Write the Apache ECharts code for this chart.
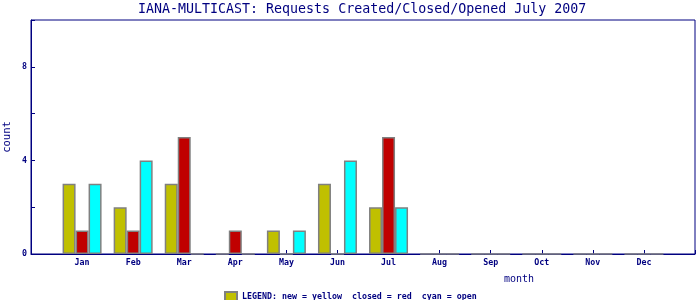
<!DOCTYPE html>
<html>
<head>
<meta charset="utf-8">
<script src="https://cdn.jsdelivr.net/npm/echarts@6/dist/echarts.min.js"></script>
<style>html,body{margin:0;padding:0;background:#fff}#c{width:700px;height:300px}</style>
</head>
<body>
<div id="c"></div>
<script>
const months = ['', 'Jan', 'Feb', 'Mar', 'Apr', 'May', 'Jun', 'Jul', 'Aug', 'Sep', 'Oct', 'Nov', 'Dec', ''];
const newReq =    [null, 3, 2, 3, 0, 1, 3, 2, 0, 0, 0, 0, 0, null];
const closedReq = [null, 1, 1, 5, 1, 0, 0, 5, 0, 0, 0, 0, 0, null];
const openReq =   [null, 3, 4, 0, 0, 1, 4, 2, 0, 0, 0, 0, 0, null];
const yTicks = [0, 4, 8];

const NAVY = '#000080';
const MONO = '"DejaVu Sans Mono", monospace';
const chart = echarts.init(document.getElementById('c'), null, {renderer: 'canvas'});
const barBase = {type: 'bar', barWidth: 13, barGap: '0%', animation: false};
chart.setOption({
  animation: false,
  title: {
    text: 'IANA-MULTICAST: Requests Created/Closed/Opened July 2007',
    left: 138, top: 1, padding: [2, 0, 0, 0],
    textStyle: {color: NAVY, fontFamily: MONO, fontSize: 13.3, fontWeight: 'normal'}
  },
  legend: {
    data: ['new'],
    left: 224, top: 291, padding: 0,
    itemWidth: 12, itemHeight: 9, icon: 'rect',
    formatter: () => 'LEGEND: new = yellow\u00a0 closed = red\u00a0 cyan = open',
    textStyle: {color: NAVY, fontFamily: MONO, fontSize: 8.3, fontWeight: 'bold'}
  },
  grid: {left: 31, right: 5, top: 20, bottom: 46, containLabel: false, outerBoundsMode: 'none',
    show: true, borderColor: NAVY, borderWidth: 1, backgroundColor: '#fff'},
  xAxis: {
    type: 'category', data: months, boundaryGap: false,
    name: 'month', nameLocation: 'middle', nameGap: 20, nameMoveOverlap: false,
    nameTextStyle: {color: NAVY, fontFamily: MONO, fontSize: 10, padding: [0, 0, 0, 312]},
    axisLine: {lineStyle: {color: NAVY, width: 1}},
    axisTick: {inside: true, length: 4, lineStyle: {color: NAVY}},
    axisLabel: {color: NAVY, fontFamily: MONO, fontSize: 8.3, fontWeight: 'bold', margin: 5, interval: 0},
    splitLine: {show: false}
  },
  yAxis: {
    type: 'value', min: 0, max: 10, interval: 2,
    name: 'count', nameLocation: 'middle', nameGap: 18, nameMoveOverlap: false,
    nameTextStyle: {color: NAVY, fontFamily: MONO, fontSize: 10.5},
    axisLine: {show: true, lineStyle: {color: NAVY, width: 1}},
    axisTick: {show: true, inside: true, length: 4, lineStyle: {color: NAVY}},
    axisLabel: {color: NAVY, fontFamily: MONO, fontSize: 8.3, fontWeight: 'bold', margin: 4,
      formatter: v => yTicks.includes(v) ? String(v) : ''},
    splitLine: {show: false}
  },
  series: [
    Object.assign({}, barBase, {name: 'new', data: newReq, itemStyle: {color: '#C0C000', borderColor: '#808080', borderWidth: 1.5}}),
    Object.assign({}, barBase, {name: 'closed', data: closedReq, itemStyle: {color: '#C00000', borderColor: '#808080', borderWidth: 1.5}}),
    Object.assign({}, barBase, {name: 'open', data: openReq, itemStyle: {color: '#00FFFF', borderColor: '#808080', borderWidth: 1.5}})
  ]
});
</script>
</body>
</html>
